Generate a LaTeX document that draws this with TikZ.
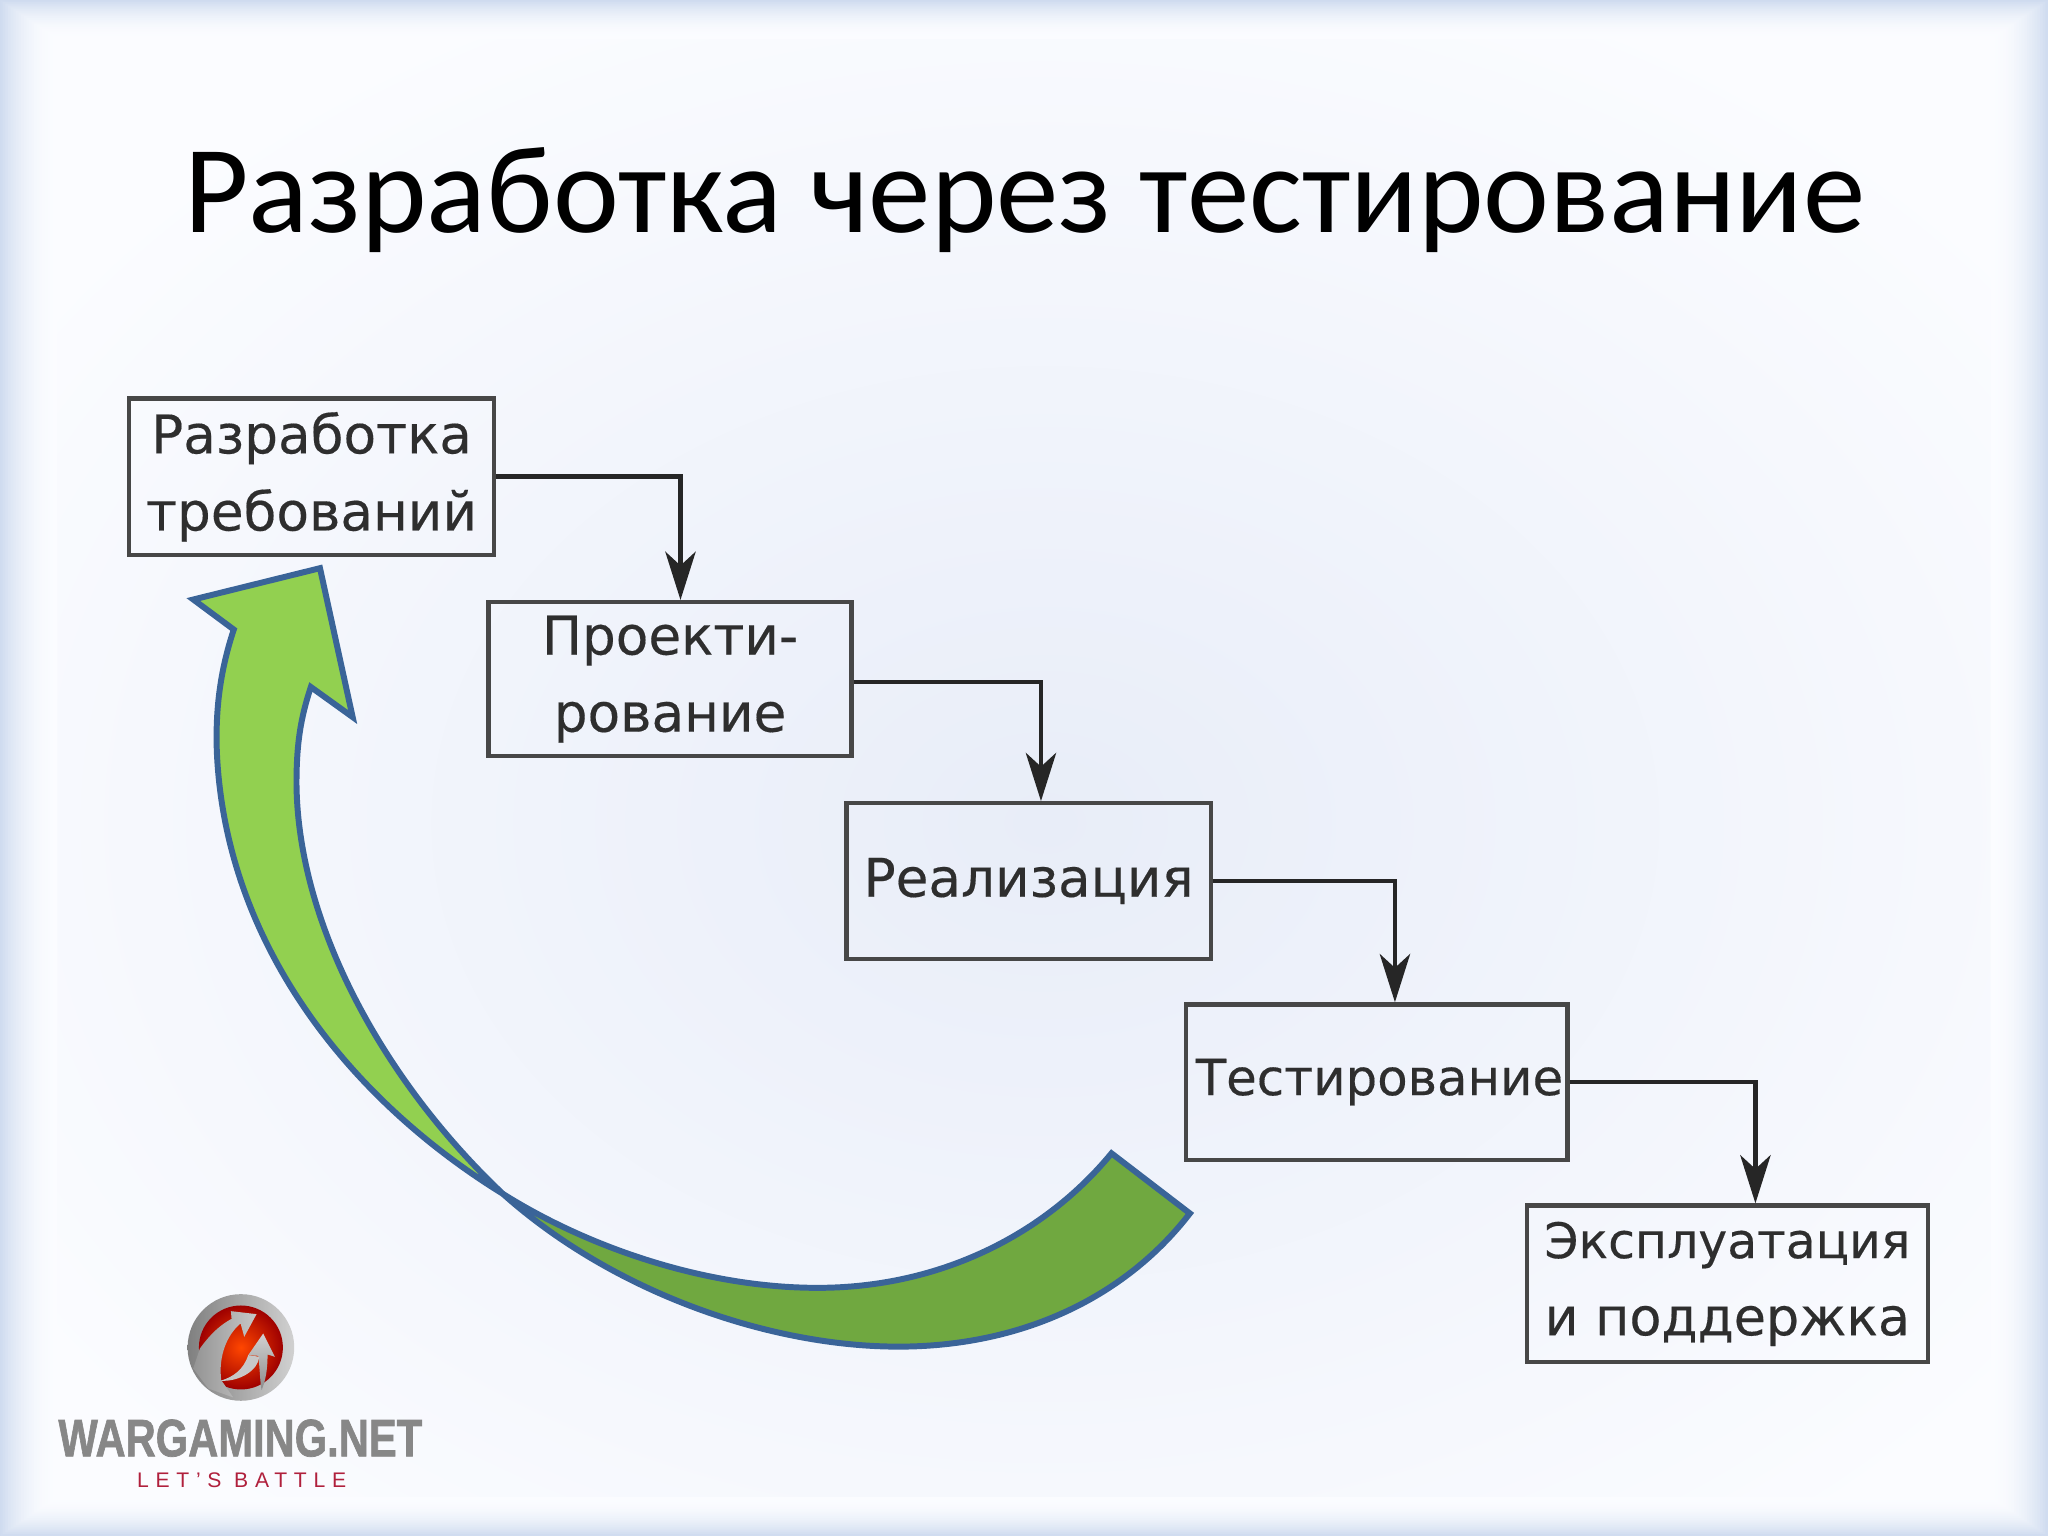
\documentclass[tikz,border=0pt]{standalone}
\usepackage{fontspec}
\usetikzlibrary{arrows.meta}
\newfontfamily\boxfont[FakeBold=0.3]{DejaVu Sans}
\newfontfamily\titlefont{Carlito}
\newfontfamily\logofont[BoldFeatures={FakeBold=1.4}]{Liberation Sans}
\newfontfamily\tagfont[LetterSpace=32]{Liberation Sans}
\definecolor{basebg}{HTML}{FBFCFF}
\definecolor{edgebg}{HTML}{CBD9EE}
\definecolor{blobbg}{HTML}{E8EDF8}
\definecolor{arrowline}{HTML}{3A6498}
\definecolor{lightgreen}{HTML}{92D050}
\definecolor{darkgreen}{HTML}{70A840}
\tikzset{
  stagebox/.style={draw=black!72,line width=0.95pt,inner sep=0pt,align=center,
    text=black!82,font=\boxfont\fontsize{11.6}{16.8}\selectfont},
  conn/.style={draw=black!85,line width=1pt,
    -{Stealth[length=10.5pt,width=6.6pt,inset=3pt]}},
  bigarrow/.style={draw=arrowline,line width=1.3pt,line join=miter,miter limit=8}
}
\begin{document}
\begin{tikzpicture}[x=0.1mm,y=-0.1mm]
\useasboundingbox (0,0) rectangle (1568,1176);
% background
\fill[basebg] (0,0) rectangle (1568,1176);
\shade[inner color=blobbg,outer color=basebg] (800,630) ellipse [x radius=940,y radius=700];
\foreach \i in {44,42,...,0}{
  \pgfmathsetmacro{\p}{100*(1-\i/46)^2.2}
  \fill[edgebg!\p!basebg,even odd rule] (0,0) rectangle (1568,1176) (\i,0.68*\i) rectangle (1568-\i,1176-0.68*\i);
}
% title
\node[anchor=base,font=\titlefont\fontsize{27.2}{30}\selectfont,text=black,inner sep=0pt] (title) at (784.5,178) {Разработка через тестирование};
% boxes
\node[stagebox,minimum width=279*0.1mm,minimum height=120*0.1mm] (b1) at (238.5,365) {Разработка\\требований};
\node[stagebox,minimum width=278*0.1mm,minimum height=118*0.1mm] (b2) at (513,520) {Проекти-\\рование};
\node[stagebox,minimum width=279*0.1mm,minimum height=119*0.1mm] (b3) at (787.5,674.5) {Реализация};
\node[stagebox,minimum width=292*0.1mm,minimum height=119*0.1mm] (b4) at (1054,828.5) {\hspace*{1.2pt}{\fontsize{10.85}{16.8}\selectfont Тестирование}};
\node[stagebox,minimum width=307*0.1mm,minimum height=120*0.1mm] (b5) at (1322.5,983) {{\fontsize{10.66}{16.8}\selectfont Эксплуатация}\\{\fontsize{11.4}{16.8}\selectfont и поддержка}};
% connectors
\draw[conn] (b1.east) -| ([xshift=8*0.1mm]b2.north);
\draw[conn] ([yshift=-2*0.1mm]b2.east) -| ([xshift=9.5*0.1mm]b3.north);
\draw[conn] (b3.east) -| ([xshift=14*0.1mm]b4.north);
\draw[conn] (b4.east) -| ([xshift=21.5*0.1mm]b5.north);
% big curved arrow: dark lower part
\path[bigarrow,fill=darkgreen] (385,914)
  .. controls (470,990) and (590,1031) .. (688,1031)
  .. controls (780,1031) and (860,995) .. (911,929)
  -- (851,883)
  .. controls (800,945) and (720,986) .. (626,986)
  .. controls (540,986) and (450,955) .. cycle;
% light upper part
\path[bigarrow,fill=lightgreen] (385,914)
  .. controls (265,840) and (172,720) .. (166,575)
  .. controls (165,545) and (168,515) .. (179,482)
  -- (148,459) -- (245,435) -- (270,549) -- (238,526)
  .. controls (230,550) and (227,570) .. (227,600)
  .. controls (228,710) and (296,830) .. cycle;
% logo
\begin{scope}[shift={(0,949.5)},x=0.02552mm,y=-0.02552mm]
  \shade[left color=black!50,right color=black!18] (723,322) circle (160);
  \shade[inner color=orange!55!red,outer color=red!62!black] (723,322) circle (126);
  \shade[left color=black!42,right color=black!22] (600,325)
     .. controls (640,270) and (670,250) .. (695,236)
     -- (693,213) -- (770,222) -- (733,290) -- (722,250)
     .. controls (680,285) and (655,350) .. (664,420)
     -- (700,472) -- (625,445) -- (580,385) -- cycle;
  \shade[top color=black!18,bottom color=black!45] (790,280) -- (825,350) -- (803,343)
     .. controls (803,385) and (798,420) .. (785,450)
     .. controls (780,420) and (780,385) .. (775,347)
     -- (745,345) -- cycle;
  \fill[black!22] (662,422) .. controls (700,410) and (730,390) .. (745,345)
     -- (778,350) .. controls (775,390) and (720,425) .. cycle;
\end{scope}
\node[anchor=base,inner sep=0pt,text=black!47,font=\logofont\bfseries\fontsize{11.5}{12}\selectfont] (brand) at (184,1115) {\scalebox{0.79}[1]{WARGAMING.NET}};
\node[anchor=base,inner sep=0pt,text={rgb,255:red,176;green,32;blue,60},font=\tagfont\fontsize{4.6}{5}\selectfont] (tag) at (185,1139) {LET’S BATTLE};
\end{tikzpicture}
\end{document}
